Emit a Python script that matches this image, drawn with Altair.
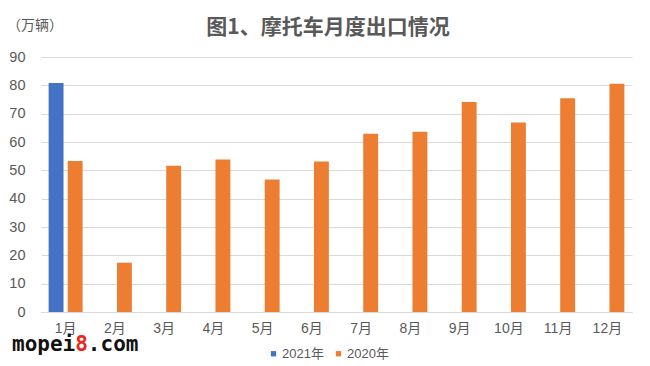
import altair as alt
import pandas as pd

months = ["1月", "2月", "3月", "4月", "5月", "6月", "7月", "8月", "9月", "10月", "11月", "12月"]
series = ["2021年", "2020年"]
v2021 = [80.8, None, None, None, None, None, None, None, None, None, None, None]
v2020 = [53.3, 17.4, 51.6, 53.8, 46.8, 53.1, 62.9, 63.6, 74.1, 66.9, 75.4, 80.6]
colors = ["#4472C4", "#ED7D31"]
y_ticks = [0, 10, 20, 30, 40, 50, 60, 70, 80, 90]

rows = []
for m, a, b in zip(months, v2021, v2020):
    if a is not None:
        rows.append({"月份": m, "系列": series[0], "值": a})
    if b is not None:
        rows.append({"月份": m, "系列": series[1], "值": b})
df = pd.DataFrame(rows)

FONT = "'Liberation Sans', 'Noto Sans CJK SC', sans-serif"
CJK = "'Noto Sans CJK SC', sans-serif"
GRAY = "#595959"

bars = alt.Chart(df).mark_bar().encode(
    x=alt.X("月份:N", sort=months, scale=alt.Scale(domain=months, paddingInner=0.31, paddingOuter=0.155),
            axis=alt.Axis(title=None, labelAngle=0, ticks=False, domain=True, domainColor="#d9d9d9",
                          labelFont=FONT, labelFontSize=14, labelColor=GRAY, labelPadding=9, grid=False)),
    xOffset=alt.XOffset("系列:N", scale=alt.Scale(domain=series, paddingInner=0.22, paddingOuter=0)),
    y=alt.Y("值:Q", scale=alt.Scale(domain=[0, 90], nice=False),
            axis=alt.Axis(title=None, values=y_ticks, ticks=False, domain=False, gridColor="#d9d9d9",
                          labelFont=FONT, labelFontSize=14.5, labelColor=GRAY, labelPadding=16)),
    color=alt.Color("系列:N", scale=alt.Scale(domain=series, range=colors),
                    legend=alt.Legend(title=None, orient="none", direction="horizontal",
                                      legendX=226, legendY=290, symbolType="square", symbolSize=28,
                                      symbolStrokeWidth=0, labelFont=FONT, labelFontSize=13,
                                      labelColor=GRAY, labelOffset=2, columnPadding=8)),
)

anno = pd.DataFrame({"k": [0]})

title = alt.Chart(anno).mark_text(text="图1、摩托车月度出口情况", font=CJK, fontSize=21, fontWeight="bold",
                                  color=GRAY, align="center", baseline="middle").encode(
    x=alt.value(287), y=alt.value(-29))
unit = alt.Chart(anno).mark_text(text="（万辆）", font=CJK, fontSize=14, color=GRAY,
                                 align="left", baseline="middle").encode(
    x=alt.value(-34), y=alt.value(-31))

cw = 0.602 * 21
wm_x = -29
wm1 = alt.Chart(anno).mark_text(text="mopei", font="'DejaVu Sans Mono', monospace", fontSize=21,
                                fontWeight="bold", color="#111111", align="left", baseline="alphabetic").encode(
    x=alt.value(wm_x), y=alt.value(294))
wm2 = alt.Chart(anno).mark_text(text="8", font="'DejaVu Sans Mono', monospace", fontSize=21,
                                fontWeight="bold", color="#e8281e", align="left", baseline="alphabetic").encode(
    x=alt.value(wm_x + 5 * cw), y=alt.value(294))
wm3 = alt.Chart(anno).mark_text(text=".com", font="'DejaVu Sans Mono', monospace", fontSize=21,
                                fontWeight="bold", color="#111111", align="left", baseline="alphabetic").encode(
    x=alt.value(wm_x + 6 * cw), y=alt.value(294))

chart = alt.layer(bars, title, unit, wm1, wm2, wm3).properties(
    width=591, height=255,
    autosize=alt.AutoSizeParams(type="none"),
    padding={"left": 33, "top": 49, "right": 10, "bottom": 54},
    background="white",
).configure_view(stroke=None)

chart.save("out.html", embed_options={"renderer": "svg", "actions": False})
